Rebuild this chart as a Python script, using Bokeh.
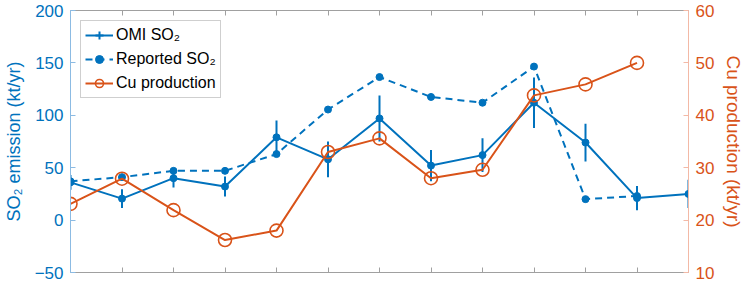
from bokeh.plotting import figure
from bokeh.models import (Range1d, LinearAxis, FixedTicker, Legend, LegendItem,
                          CustomJSTickFormatter)
from bokeh.embed import file_html
from bokeh.resources import INLINE

# ---- data ----
years = [2005, 2006, 2007, 2008, 2009, 2010, 2011, 2012, 2013, 2014, 2015, 2016, 2017]
omi_so2 = [36, 20.5, 40, 32, 79, 58, 97, 52, 62, 112, 74, 21, 25]
omi_err = [7, 9, 9, 9.5, 16, 17, 22, 15, 16, 24, 18, 11.5, 13.5]
reported_years = [2005, 2006, 2007, 2008, 2009, 2010, 2011, 2012, 2013, 2014, 2015, 2016]
reported_so2 = [37, 41, 47, 47, 63, 105.5, 136.5, 117.5, 112, 146.5, 20, 23]
cu_years = [2005, 2006, 2007, 2008, 2009, 2010, 2011, 2012, 2013, 2014, 2015, 2016]
cu_production = [23.1, 27.9, 21.9, 16.2, 18, 33, 35.6, 28, 29.6, 43.8, 45.9, 50]
left_ticks = [-50, 0, 50, 100, 150, 200]
right_ticks = [10, 20, 30, 40, 50, 60]

BLUE = "#0072BD"
ORANGE = "#D95319"
FONT = "Liberation Sans"

omi_low = [v - e for v, e in zip(omi_so2, omi_err)]
omi_high = [v + e for v, e in zip(omi_so2, omi_err)]

p = figure(width=750, height=284, output_backend="svg", toolbar_location=None,
           x_range=Range1d(years[0], years[-1]), y_range=Range1d(-50, 200),
           min_border_left=70, min_border_right=62, min_border_top=10,
           min_border_bottom=12)
p.extra_y_ranges = {"cu": Range1d(10, 60), "legend_only": Range1d(1000, 1001)}
p.outline_line_color = None
p.xgrid.visible = False
p.ygrid.visible = False
p.background_fill_color = "white"
p.border_fill_color = "white"

blank = CustomJSTickFormatter(code="return ''")

# bottom axis
xa = p.xaxis[0]
xa.ticker = FixedTicker(ticks=years)
xa.formatter = blank
xa.major_tick_in = 5
xa.major_tick_out = 0
xa.minor_tick_line_color = None
xa.axis_line_color = "#a0a0a0"
xa.major_tick_line_color = "#a0a0a0"
xa.major_label_text_font_size = "0px"
xa.major_label_standoff = 0

# top axis
ta = LinearAxis(ticker=FixedTicker(ticks=years), formatter=blank)
ta.major_tick_in = 5
ta.major_tick_out = 0
ta.minor_tick_line_color = None
ta.axis_line_color = "#a0a0a0"
ta.major_tick_line_color = "#a0a0a0"
ta.major_label_text_font_size = "0px"
ta.major_label_standoff = 0
p.add_layout(ta, "above")

# left axis
ya = p.yaxis[0]
ya.ticker = FixedTicker(ticks=left_ticks)
ya.major_tick_in = 5
ya.major_tick_out = 0
ya.minor_tick_line_color = None
ya.axis_line_color = "#8cbbe3"
ya.major_tick_line_color = "#8cbbe3"
ya.major_label_text_color = BLUE
ya.major_label_text_font = FONT
ya.major_label_text_font_size = "17px"
ya.major_label_standoff = 7
ya.axis_label = "SO₂ emission (kt/yr)"
ya.axis_label_text_color = BLUE
ya.axis_label_text_font = FONT
ya.axis_label_text_font_size = "18px"
ya.axis_label_text_font_style = "normal"
ya.axis_label_standoff = 8

# right axis
ra = LinearAxis(y_range_name="cu", ticker=FixedTicker(ticks=right_ticks))
ra.major_tick_in = 5
ra.major_tick_out = 0
ra.minor_tick_line_color = None
ra.axis_line_color = "#f3b9a6"
ra.major_tick_line_color = "#f3b9a6"
ra.major_label_text_color = ORANGE
ra.major_label_text_font = FONT
ra.major_label_text_font_size = "17px"
ra.major_label_standoff = 7
ra.axis_label = "Cu production (kt/yr)"
ra.axis_label_text_color = ORANGE
ra.axis_label_text_font = FONT
ra.axis_label_text_font_size = "19px"
ra.axis_label_text_font_style = "normal"
ra.axis_label_standoff = 6
p.add_layout(ra, "right")

# Reported SO2 (dashed)
rep_line = p.line(reported_years, reported_so2, line_color=BLUE, line_width=2,
                  line_dash="7 5")
rep_pts = p.scatter(reported_years, reported_so2, marker="circle", size=7,
                    fill_color=BLUE, line_color=BLUE)

# OMI SO2 with error bars
omi_bars = p.segment(x0=years, y0=omi_low, x1=years, y1=omi_high,
                     line_color=BLUE, line_width=2)
omi_line = p.line(years, omi_so2, line_color=BLUE, line_width=2)
omi_pts = p.scatter(years, omi_so2, marker="circle", size=7,
                    fill_color=BLUE, line_color=BLUE)
# legend-only glyph for the error-bar symbol (mapped off-frame, so clipped)
omi_cross = p.scatter(years, omi_so2, marker="cross", size=17,
                      line_color=BLUE, line_width=2, y_range_name="legend_only")

# Cu production
cu_line = p.line(cu_years, cu_production, line_color=ORANGE, line_width=2,
                 y_range_name="cu")
cu_pts = p.scatter(cu_years, cu_production, marker="circle", size=13,
                   fill_color=None, line_color=ORANGE, line_width=1.6,
                   y_range_name="cu")

legend = Legend(items=[
    LegendItem(label="OMI SO₂", renderers=[omi_line, omi_cross]),
    LegendItem(label="Reported SO₂", renderers=[rep_line, rep_pts]),
    LegendItem(label="Cu production", renderers=[cu_line, cu_pts]),
], location="top_left")
legend.margin = 10
legend.padding = 4
legend.spacing = 4
legend.glyph_width = 28
legend.glyph_height = 20
legend.label_height = 20
legend.label_standoff = 3
legend.label_text_font = FONT
legend.label_text_font_size = "16px"
legend.label_text_color = "#000000"
legend.border_line_color = "#a0a0a0"
legend.border_line_width = 1
legend.background_fill_color = "white"
legend.background_fill_alpha = 1
p.add_layout(legend, "center")

open("out.html", "w").write(file_html(p, INLINE))
